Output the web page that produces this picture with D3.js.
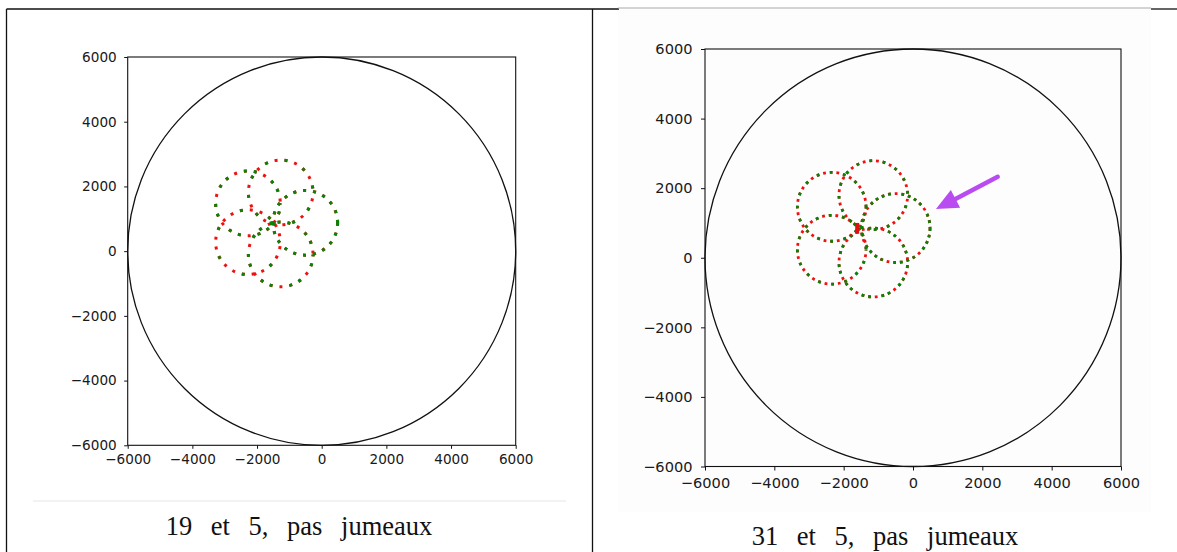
<!DOCTYPE html>
<html><head><meta charset="utf-8">
<script src="https://cdn.jsdelivr.net/npm/d3@7"></script>
<style>body{margin:0;background:#fff;} svg{display:block}</style>
</head><body>
<svg id="c" width="1177" height="552"></svg>
<script>
// ---------- data ----------
const tickValues = [-6000, -4000, -2000, 0, 2000, 4000, 6000];
const axisDomain = [-6000, 6000];
const boundaryRadius = 6000;
const captions = ["19 et 5, pas jumeaux", "31 et 5, pas jumeaux"];

// five petal loops of the trajectory: centre x, centre y, radius (data units)
const petalXLeft  = [-507, -1268, -2280, -2280, -1268];
const petalYLeft  = [875, 1816, 1475, 278, -102];
const petalRLeft  = [1000, 1000, 1000, 1000, 1000];
const petalXRight = [-499, -1145, -2345, -2345, -1145];
const petalYRight = [853, 1800, 1464, 230, -135];
const petalRRight = [990, 990, 990, 990, 990];

// start marks at the centre of the rosette
const centreLeft  = [[-1547, 800], [-1547, 920]];
const centreRight = [[-1610, 690], [-1610, 1000]];

// purple arrow in the right panel (tail, head), data units
const arrowRight = [[2443, 2326], [663, 1398]];

// ---------- drawing ----------
const svg = d3.select("#c");
const fmt = d3.format("d");

// table frame
const frame = svg.append("g");
frame.append("rect").attr("x", 618).attr("y", 8).attr("width", 533).attr("height", 504).attr("fill", "#fdfdfd");
const L = (x1, y1, x2, y2, c, w) => frame.append("line").attr("x1", x1).attr("y1", y1).attr("x2", x2).attr("y2", y2)
  .attr("stroke", c).attr("stroke-width", w);
L(6.5, 9, 619, 9, "#111", 1.3);
L(6.5, 9, 6.5, 552, "#111", 1.3);
L(592.5, 9, 592.5, 552, "#111", 1.3);
L(618, 8, 1151, 8, "#aaa", 1.2);
L(1151, 9, 1177, 9, "#111", 1.3);
L(33, 501, 566, 501, "#e6e6e6", 1);

function panel(cfg) {
  const g = svg.append("g");
  const x = d3.scaleLinear().domain(axisDomain).range(cfg.xr);
  const y = d3.scaleLinear().domain(axisDomain).range(cfg.yr);
  const kx = x(1) - x(0), ky = y(0) - y(1);

  // big boundary circle
  g.append("ellipse").attr("cx", x(0)).attr("cy", y(0))
    .attr("rx", x(boundaryRadius) - x(0)).attr("ry", y(0) - y(boundaryRadius))
    .attr("fill", "none").attr("stroke", "#111").attr("stroke-width", 1.3);

  // dotted petals: red underneath, green on top (some dots left red)
  const petals = cfg.px.map((px, i) => ({cx: px, cy: cfg.py[i], r: cfg.pr[i], i}));
  const dr = (sel) => sel.attr("cx", d => x(d.cx)).attr("cy", d => y(d.cy))
    .attr("rx", d => d.r * kx).attr("ry", d => d.r * ky)
    .attr("fill", "none").attr("stroke-width", cfg.dot).attr("stroke-linecap", "butt");
  g.selectAll("ellipse.red").data(petals).join("ellipse").attr("class", "red").call(dr)
    .attr("stroke", "#f01010").attr("stroke-dasharray", `${cfg.dot} ${cfg.period - cfg.dot}`)
    .attr("stroke-dashoffset", d => cfg.offs[d.i]);
  g.selectAll("ellipse.green").data(petals).join("ellipse").attr("class", "green").call(dr)
    .attr("stroke", "#078307").attr("stroke-dasharray", d => cfg.greenPat[d.i])
    .attr("stroke-dashoffset", d => cfg.offs[d.i]);

  // centre marks
  g.append("line").attr("x1", x(cfg.centre[0][0])).attr("y1", y(cfg.centre[0][1]))
    .attr("x2", x(cfg.centre[1][0])).attr("y2", y(cfg.centre[1][1]))
    .attr("stroke", cfg.centreColor).attr("stroke-width", cfg.centreW);

  // axes frame
  g.append("rect").attr("x", x(-6000)).attr("y", y(6000))
    .attr("width", x(6000) - x(-6000)).attr("height", y(-6000) - y(6000))
    .attr("fill", "none").attr("stroke", "#111").attr("stroke-width", 1.1);

  const ax = g.append("g").attr("transform", `translate(0,${y(-6000)})`)
    .call(d3.axisBottom(x).tickValues(tickValues).tickFormat(fmt).tickSize(cfg.tick).tickPadding(cfg.padX));
  const ay = g.append("g").attr("transform", `translate(${x(-6000)},0)`)
    .call(d3.axisLeft(y).tickValues(tickValues).tickFormat(fmt).tickSize(cfg.tick).tickPadding(cfg.padY));
  [ax, ay].forEach(a => {
    a.select(".domain").remove();
    a.selectAll("line").attr("stroke", "#111").attr("stroke-width", 1);
    a.selectAll("text").attr("font-family", "DejaVu Sans").attr("font-size", cfg.fs).attr("fill", "#1a1a1a");
  });

  // caption
  svg.append("text").attr("x", cfg.capX).attr("y", cfg.capY).attr("text-anchor", "middle")
    .attr("font-family", "Liberation Serif").attr("font-size", 26.5).attr("word-spacing", 12)
    .attr("fill", "#111").text(cfg.caption);

  return {x, y};
}

panel({
  xr: [127.7, 515.7], yr: [445.3, 57], tick: 3.5, padX: 6, padY: 7.5, fs: 13.6,
  px: petalXLeft, py: petalYLeft, pr: petalRLeft,
  dot: 3, period: 10,
  greenPat: ["3 7", "3 17", "3 7 3 7 0 10", "3 27", "3 7 3 7 0 10"],
  offs: [0, 4, 2, 6, 1],
  centre: centreLeft, centreColor: "#078307", centreW: 4,
  caption: captions[0], capX: 299, capY: 535
});

const R = panel({
  xr: [705, 1121], yr: [466.5, 49], tick: 4, padX: 7, padY: 8.5, fs: 14.6,
  px: petalXRight, py: petalYRight, pr: petalRRight,
  dot: 2.8, period: 6.7,
  greenPat: ["2.8 3.9 2.8 3.9 2.8 3.9 2.8 3.9 0 6.7", "2.8 10.6", "2.8 3.9 0 6.7", "2.8 10.6", "2.8 3.9 2.8 3.9 0 6.7"],
  offs: [0, 3, 1, 2, 4],
  centre: centreRight, centreColor: "#e01010", centreW: 4,
  caption: captions[1], capX: 885, capY: 545
});

// purple arrow
const ag = svg.append("g");
const t = arrowRight[0], h = arrowRight[1];
const x1 = R.x(t[0]), y1 = R.y(t[1]), x2 = R.x(h[0]), y2 = R.y(h[1]);
const ang = Math.atan2(y2 - y1, x2 - x1);
const headL = 22, headW = 10;
const bx = x2 - headL * Math.cos(ang), by = y2 - headL * Math.sin(ang);
ag.append("line").attr("x1", x1).attr("y1", y1).attr("x2", bx).attr("y2", by)
  .attr("stroke", "#b84cf0").attr("stroke-width", 4.5).attr("stroke-linecap", "round");
ag.append("path").attr("d", d3.line()([
  [x2, y2],
  [bx + headW * Math.sin(ang), by - headW * Math.cos(ang)],
  [bx - headW * Math.sin(ang), by + headW * Math.cos(ang)]
]) + "Z").attr("fill", "#b84cf0");
</script>
</body></html>
